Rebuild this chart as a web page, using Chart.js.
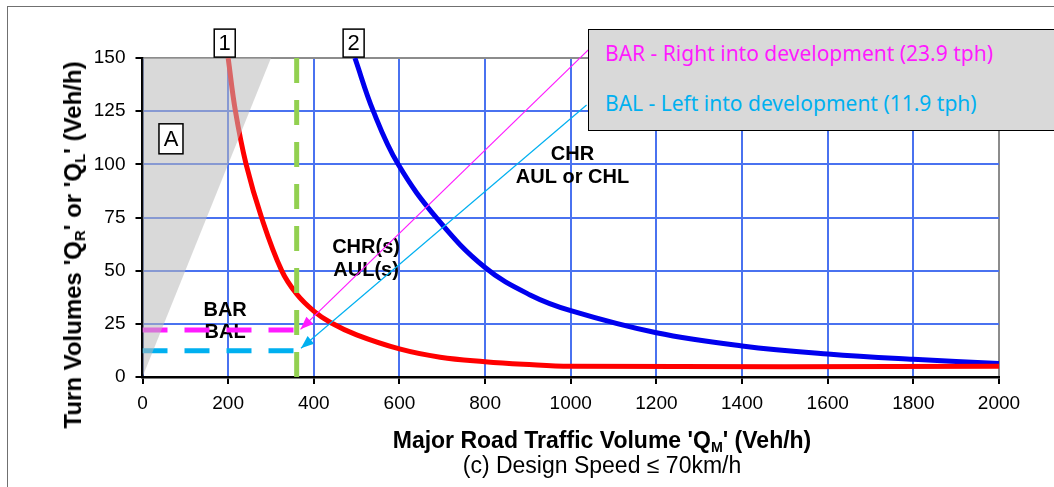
<!DOCTYPE html>
<html>
<head>
<meta charset="utf-8">
<script src="https://cdn.jsdelivr.net/npm/chart.js@4.4.1/dist/chart.umd.min.js"></script>
<style>
  html, body { margin: 0; padding: 0; background: #fff; }
  #wrap { position: relative; width: 1054px; height: 487px; overflow: hidden; font-family: 'Liberation Sans', Arial, sans-serif; }
  #frame { position: absolute; left: 7px; top: 6px; width: 1100px; height: 500px; border-top: 1.5px solid #707070; border-left: 1.5px solid #707070; }
  #chart { position: absolute; left: 0; top: 0; }
  .title { position: absolute; font-weight: bold; color: #000; white-space: nowrap; line-height: 1; }
  .title sub { font-size: 0.62em; vertical-align: -0.3em; line-height: 0; }
  #ytitle { left: 73px; top: 245px; font-size: 24px; transform: translate(-50%, -50%) rotate(-90deg); }
  #xtitle { left: 602px; top: 440px; font-size: 23px; transform: translate(-50%, -50%); }
  #subtitle { position: absolute; left: 602px; top: 465px; transform: translate(-50%, -50%); font-size: 23px; line-height: 1; white-space: nowrap; }
  #note { position: absolute; left: 588px; top: 29px; width: 500px; height: 100px; background: #d9d9d9; border: 1.5px solid #000;
          font-family: 'Noto Sans', sans-serif; font-size: 21px; line-height: 1; }
  #note div { position: absolute; left: 16px; white-space: nowrap; }
</style>
</head>
<body>
<div id="wrap">
  <div id="frame"></div>
  <canvas id="chart" width="1054" height="487"></canvas>
  <div class="title" id="ytitle">Turn Volumes 'Q<sub>R</sub>' or 'Q<sub>L</sub>' (Veh/h)</div>
  <div class="title" id="xtitle">Major Road Traffic Volume 'Q<sub>M</sub>' (Veh/h)</div>
  <div id="subtitle">(c) Design Speed ≤ 70km/h</div>
  <div id="note">
    <div style="top:13px; color:#ff1aff;">BAR - Right into development (23.9 tph)</div>
    <div style="top:63px; color:#00b0f0;">BAL - Left into development (11.9 tph)</div>
  </div>
</div>
<script>
// curve 1 (red) and curve 2 (blue)
const redX = [200, 217, 242, 278, 325, 360, 400, 440, 500, 600, 695, 800, 889, 1000, 2000];
const redY = [150, 125, 100, 75, 50, 39, 31, 25.5, 19.8, 13.2, 9.3, 7.2, 6.0, 5, 5];

const blueX = [496, 539, 597, 690, 800, 905, 1000, 1200, 1400, 1600, 1800, 2000];
const blueY = [150, 125, 100, 74, 51.5, 38.6, 31.2, 20.8, 14.6, 10.8, 8.3, 6.4];

// shaded zone A (filled up to the top of the chart)
const zoneX = [0, 300];
const zoneY = [0, 150];

// design volume lines
const greenX = [360, 360];
const greenY = [150, 0];
const barX = [0, 360];
const barY = [22.1, 22.1];
const balX = [0, 360];
const balY = [12.4, 12.4];

// leader arrows from the note box
const barArrowX = [1041, 369];
const barArrowY = [153.8, 22.4];
const balArrowX = [1037, 370];
const balArrowY = [127.9, 13.5];

const xTicks = [0, 200, 400, 600, 800, 1000, 1200, 1400, 1600, 1800, 2000];
const yTicks = [0, 25, 50, 75, 100, 125, 150];

// text in the chart
const boxLabels = [
  { text: '1', x: 192, y: 157, w: 21, h: 28 },
  { text: '2', x: 493, y: 157, w: 21, h: 28 },
  { text: 'A', x: 66.5, y: 112, w: 24, h: 30 }
];
const zoneLabels = [
  { text: 'BAR', x: 193, y: 31.5 },
  { text: 'BAL', x: 193, y: 20.7 },
  { text: 'CHR(s)', x: 522, y: 61 },
  { text: 'AUL(s)', x: 522, y: 50.3 },
  { text: 'CHR', x: 1004, y: 104.4 },
  { text: 'AUL or CHL', x: 1004, y: 93.7 }
];

function pts(xs, ys) {
  return xs.map((x, i) => ({ x: x, y: ys[i] }));
}

const arrowHeads = {
  id: 'arrowHeads',
  afterDatasetsDraw(chart) {
    const ctx = chart.ctx;
    chart.data.datasets.forEach((ds, i) => {
      if (!ds.arrow) return;
      const p = chart.getDatasetMeta(i).data;
      const a = p[p.length - 2], b = p[p.length - 1];
      const ang = Math.atan2(b.y - a.y, b.x - a.x);
      ctx.save();
      ctx.fillStyle = ds.borderColor;
      ctx.translate(b.x, b.y);
      ctx.rotate(ang);
      ctx.beginPath();
      ctx.moveTo(0, 0);
      ctx.lineTo(-13, -5);
      ctx.lineTo(-13, 5);
      ctx.closePath();
      ctx.fill();
      ctx.restore();
    });
  }
};

const chartText = {
  id: 'chartText',
  beforeDatasetsDraw(chart) {
    const ctx = chart.ctx, sx = chart.scales.x, sy = chart.scales.y;
    ctx.save();
    ctx.font = 'bold 20px "Liberation Sans", Arial, sans-serif';
    ctx.fillStyle = '#000';
    ctx.textAlign = 'center';
    ctx.textBaseline = 'middle';
    zoneLabels.forEach(l => ctx.fillText(l.text, sx.getPixelForValue(l.x), sy.getPixelForValue(l.y)));
    ctx.restore();
  },
  afterDatasetsDraw(chart) {
    const ctx = chart.ctx, sx = chart.scales.x, sy = chart.scales.y;
    ctx.save();
    ctx.font = '22px "Liberation Sans", Arial, sans-serif';
    ctx.textAlign = 'center';
    ctx.textBaseline = 'middle';
    boxLabels.forEach(l => {
      const px = sx.getPixelForValue(l.x), py = sy.getPixelForValue(l.y);
      ctx.fillStyle = '#fff';
      ctx.fillRect(px - l.w / 2, py - l.h / 2, l.w, l.h);
      ctx.strokeStyle = '#000';
      ctx.lineWidth = 1.5;
      ctx.strokeRect(px - l.w / 2, py - l.h / 2, l.w, l.h);
      ctx.fillStyle = '#000';
      ctx.fillText(l.text, px, py + 1);
    });
    ctx.restore();
  }
};

const ctx = document.getElementById('chart').getContext('2d');

const turnChart = new Chart(ctx, {
  type: 'line',
  data: {
    datasets: [
      {
        // zone A, semi transparent over everything
        data: pts(zoneX, zoneY),
        borderWidth: 0,
        pointRadius: 0,
        backgroundColor: 'rgba(185,185,185,0.55)',
        fill: 'end'
      },
      {
        data: pts(barArrowX, barArrowY),
        borderColor: '#ff1aff',
        borderWidth: 1.2,
        pointRadius: 0,
        clip: false,
        arrow: true
      },
      {
        data: pts(balArrowX, balArrowY),
        borderColor: '#00b0f0',
        borderWidth: 1.2,
        pointRadius: 0,
        clip: false,
        arrow: true
      },
      {
        data: pts(greenX, greenY),
        borderColor: '#92d050',
        borderWidth: 5,
        borderDash: [25, 17],
        borderCapStyle: 'butt',
        pointRadius: 0
      },
      {
        data: pts(barX, barY),
        borderColor: '#ff1aff',
        borderWidth: 5,
        borderDash: [25, 17],
        pointRadius: 0
      },
      {
        data: pts(balX, balY),
        borderColor: '#00b0f0',
        borderWidth: 5,
        borderDash: [25, 17],
        pointRadius: 0
      },
      {
        data: pts(redX, redY),
        borderColor: '#ff0000',
        borderWidth: 5,
        pointRadius: 0,
        tension: 0.4
      },
      {
        data: pts(blueX, blueY),
        borderColor: '#0000ee',
        borderWidth: 5,
        pointRadius: 0,
        tension: 0.4
      }
    ]
  },
  options: {
    responsive: false,
    animation: false,
    layout: { padding: { left: 0, top: 58, right: 55, bottom: 0 } },
    plugins: {
      legend: { display: false },
      tooltip: { enabled: false }
    },
    scales: {
      x: {
        type: 'linear',
        min: 0,
        max: 2000,
        afterFit: s => { s.height = 110; },
        afterBuildTicks: s => { s.ticks = xTicks.map(v => ({ value: v })); },
        ticks: {
          color: '#000',
          font: { size: 19, family: '"Liberation Sans", Arial, sans-serif' },
          padding: 8,
          maxRotation: 0,
          callback: v => String(v)
        },
        grid: {
          color: c => (c.tick && c.tick.value === 2000 ? '#8c8c8c' : '#4a72f0'),
          lineWidth: 2,
          tickColor: '#000',
          tickLength: 7,
          tickWidth: 2
        },
        border: { color: '#000', width: 2.5 }
      },
      y: {
        min: 0,
        max: 150,
        afterFit: s => { s.width = 142.5; },
        afterBuildTicks: s => { s.ticks = yTicks.map(v => ({ value: v })); },
        ticks: {
          color: '#000',
          font: { size: 19, family: '"Liberation Sans", Arial, sans-serif' },
          padding: 10,
          callback: v => String(v)
        },
        grid: {
          color: c => (c.tick && c.tick.value === 150 ? '#8c8c8c' : '#4a72f0'),
          lineWidth: 2,
          tickColor: '#000',
          tickLength: 7,
          tickWidth: 2
        },
        border: { color: '#000', width: 2.5 }
      }
    }
  },
  plugins: [chartText, arrowHeads]
});
</script>
</body>
</html>
